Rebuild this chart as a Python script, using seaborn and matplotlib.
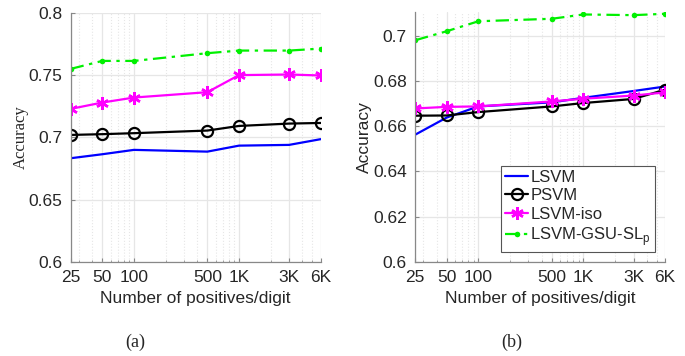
import numpy as np
import pandas as pd
import matplotlib
matplotlib.use("Agg")
import matplotlib.pyplot as plt
import seaborn as sns
from matplotlib.ticker import FixedLocator, NullFormatter

# data
positives = [25, 50, 100, 500, 1000, 3000, 6000]
tick_labels = ["25", "50", "100", "500", "1K", "3K", "6K"]

a_lsvm = [0.6833, 0.6865, 0.6900, 0.6886, 0.6934, 0.6940, 0.6986]
a_psvm = [0.7020, 0.7026, 0.7034, 0.7055, 0.7092, 0.7111, 0.7116]
a_iso = [0.7229, 0.7280, 0.7320, 0.7363, 0.7500, 0.7505, 0.7497]
a_gsu = [0.7550, 0.7614, 0.7614, 0.7676, 0.7697, 0.7697, 0.7713]

b_lsvm = [0.6562, 0.6638, 0.6687, 0.6705, 0.6725, 0.6755, 0.6775]
b_psvm = [0.6646, 0.6647, 0.6662, 0.6687, 0.6702, 0.6720, 0.6761]
b_iso = [0.6678, 0.6685, 0.6687, 0.6709, 0.6721, 0.6735, 0.6749]
b_gsu = [0.6979, 0.7019, 0.7063, 0.7074, 0.7093, 0.7090, 0.7096]

sns.set_style("ticks")
plt.rcParams["font.family"] = ["Liberation Sans", "DejaVu Sans"]

styles = [
    ("LSVM", dict(color="#0000ff", linewidth=1.6)),
    ("PSVM", dict(color="black", linewidth=1.6, marker="o", markersize=8,
                  markerfacecolor="none", markeredgecolor="black", markeredgewidth=1.6)),
    ("LSVM-iso", dict(color="#ff00ff", linewidth=1.6, marker=(6, 2, 0), markersize=9,
                      markeredgecolor="#ff00ff", markeredgewidth=1.8)),
    ("LSVM-GSU-SL$_\\mathregular{p}$", dict(color="#00f000", linewidth=1.6, linestyle=(0, (6, 2.5, 1.5, 2.5)),
                                marker="o", markersize=4, markeredgewidth=0)),
]

minor = [30, 40, 60, 70, 80, 90, 200, 300, 400, 600, 700, 800, 900,
         2000, 4000, 5000]

fig = plt.figure(figsize=(6.85, 3.56), dpi=100)
ax_a = fig.add_axes([0.1032, 0.264, 0.365, 0.700])
ax_b = fig.add_axes([0.606, 0.264, 0.365, 0.703])


def draw(ax, series, ylim, yticks):
    for (name, kw), vals in zip(styles, series):
        sns.lineplot(x=positives, y=vals, ax=ax, label=name, **kw)
    ax.set_xscale("log")
    ax.set_xlim(positives[0], positives[-1])
    ax.set_ylim(*ylim)
    ax.xaxis.set_major_locator(FixedLocator(positives))
    ax.set_xticklabels(tick_labels)
    ax.xaxis.set_minor_locator(FixedLocator(minor))
    ax.xaxis.set_minor_formatter(NullFormatter())
    ax.set_yticks(yticks)
    ax.set_yticklabels([f"{t:g}" for t in yticks])
    ax.grid(True, which="major", color="#e6e6e6", linewidth=0.9)
    ax.grid(True, which="minor", axis="x", color="#e6e6e6", linewidth=0.8, linestyle=":")
    ax.tick_params(which="both", direction="in", color="#888888", labelsize=12.5,
                   labelcolor="#262626")
    ax.tick_params(axis="x", pad=6)
    ax.tick_params(axis="y", pad=6)
    ax.tick_params(which="major", length=3)
    ax.tick_params(which="minor", length=1.5)
    for s in ["top", "right"]:
        ax.spines[s].set_visible(False)
    for s in ["left", "bottom"]:
        ax.spines[s].set_color("#888888")
        ax.spines[s].set_linewidth(0.9)
    ax.set_xlabel("Number of positives/digit", fontsize=12.5, color="#262626", labelpad=4)


draw(ax_a, [a_lsvm, a_psvm, a_iso, a_gsu], (0.6, 0.8), [0.6, 0.65, 0.7, 0.75, 0.8])
draw(ax_b, [b_lsvm, b_psvm, b_iso, b_gsu], (0.6, 0.7105), [0.6, 0.62, 0.64, 0.66, 0.68, 0.7])

ax_a.get_legend().remove()
ax_a.set_ylabel("Accuracy", fontsize=12, family=["Liberation Serif", "DejaVu Serif"], labelpad=0)
ax_b.set_ylabel("Accuracy", fontsize=12.5, color="#262626", labelpad=1)

leg = ax_b.legend(loc="lower right", bbox_to_anchor=(0.96, 0.04), fontsize=12,
                  frameon=True, fancybox=False, edgecolor="#555555", framealpha=1,
                  handlelength=1.4, handletextpad=0.1, borderpad=0.25, labelspacing=0.2,
                  borderaxespad=0)
leg.get_frame().set_linewidth(0.8)

fig.text(0.197, 0.037, "(a)", ha="center", va="center", fontsize=13,
         family=["Liberation Serif", "DejaVu Serif"])
fig.text(0.747, 0.037, "(b)", ha="center", va="center", fontsize=13,
         family=["Liberation Serif", "DejaVu Serif"])

fig.savefig("out.png", dpi=100)
